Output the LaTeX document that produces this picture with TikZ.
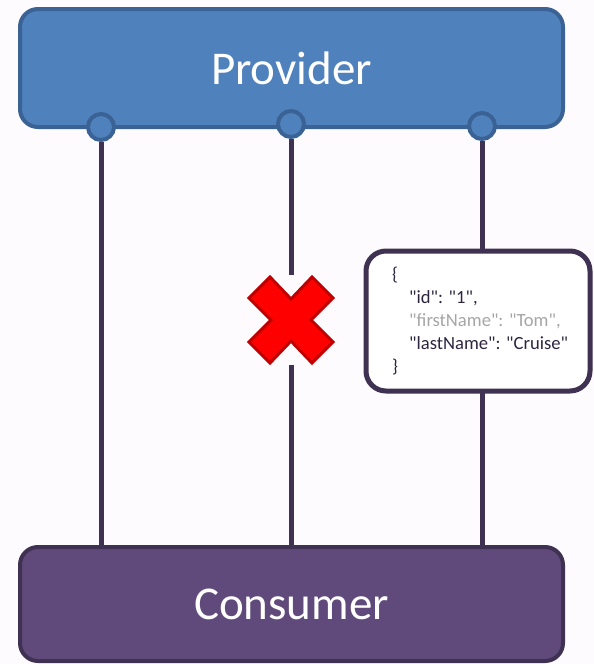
\documentclass[tikz,border=0pt]{standalone}
\usepackage{fontspec}
\setmainfont{Carlito}
\newfontfamily\jsonfont{Carlito}
\definecolor{bgc}{HTML}{FDFBFD}
\definecolor{provfill}{HTML}{4F81BD}
\definecolor{provedge}{HTML}{3A6294}
\definecolor{consfill}{HTML}{604A7B}
\definecolor{consedge}{HTML}{3F3151}
\definecolor{wire}{HTML}{3F3151}
\definecolor{jsontext}{HTML}{2E2640}
\definecolor{jsongray}{HTML}{A6A6A6}
\definecolor{xfill}{HTML}{FF0000}
\definecolor{xedge}{HTML}{C00000}
\tikzset{
  bigbox/.style={rectangle, rounded corners=18pt, line width=4pt, minimum width=543pt, minimum height=118pt, inner sep=0pt, text=white, font=\fontsize{47}{50}\selectfont},
  port/.style={circle, fill=provfill, draw=provedge, line width=4pt, minimum size=26pt, inner sep=0pt},
  wireline/.style={draw=wire, line width=5pt},
  jsonbox/.style={rectangle, rounded corners=20pt, draw=wire, fill=white, line width=5pt, minimum width=224pt, minimum height=140pt, inner sep=0pt},
  jsonlines/.style={align=left, text=jsontext, inner sep=0pt, font=\jsonfont\fontsize{18.6}{23}\selectfont},
  xmark/.style={fill=xfill, draw=xedge, line width=3pt, line join=miter},
}
\begin{document}
\begin{tikzpicture}[x=1pt, y=-1pt]
\useasboundingbox (0,0) rectangle (594,664);
\fill[bgc] (0,0) rectangle (594,664);
% boxes
\node[bigbox, fill=provfill, draw=provedge] (prov) at (291.5,68) {Provider};
\coordinate (constop) at (291.5,547);
% ports
\node[port] (p1) at (101,127) {};
\node[port] (p2) at (291,124) {};
\node[port] (p3) at (482,126) {};
% wires
\coordinate (m1) at (291,275);
\coordinate (m2) at (291,365);
\draw[wireline] (p1.south) -- (p1.south |- constop);
\draw[wireline] (p2.south) -- (m1);
\draw[wireline] (m2) -- (p2.south |- constop);
\draw[wireline] (p3.south) -- (p3.south |- constop);
% consumer drawn on top of wires
\node[bigbox, fill=consfill, draw=consedge, minimum height=114pt] (cons) at (291.5,604) {Consumer};
% json box
\node[jsonbox] (json) at (478,321) {};
\node[jsonlines, anchor=north west] (jtext) at (392,267) {%
{\{}\\
\hspace*{17pt}"id": "1",\\
\hspace*{17pt}{\color{jsongray}"firstName": "Tom",}\\
\hspace*{17pt}"lastName": "Cruise"\\
{\}}};
% red cross
\coordinate (xc) at (291,320);
\draw[xmark, shift={(xc)}] (20,0) -- (42,-22) -- (21,-43) -- (0,-21) -- (-21,-43) -- (-42,-22) -- (-20,0) -- (-42,22) -- (-21,43) -- (0,21) -- (21,43) -- (42,22) -- cycle;
\end{tikzpicture}
\end{document}
